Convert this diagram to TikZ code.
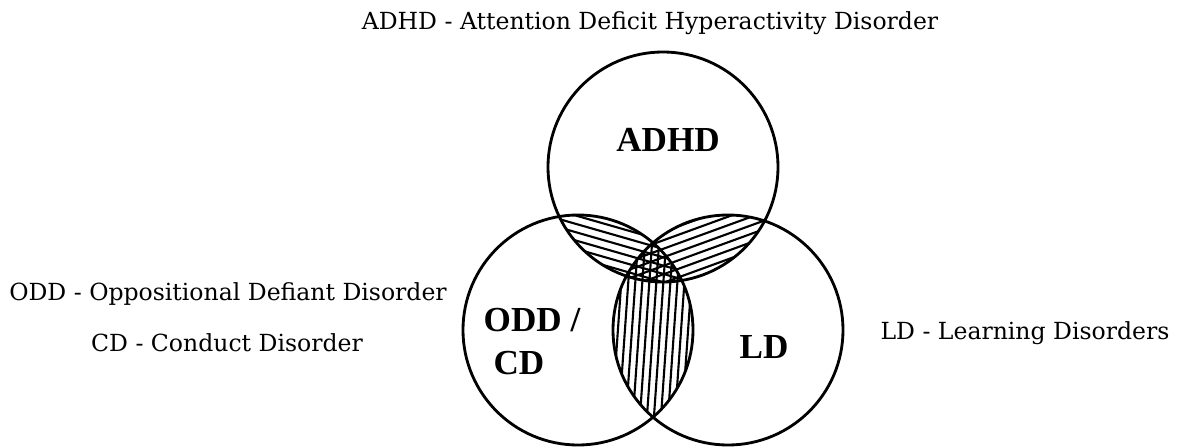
\documentclass[tikz,border=0pt]{standalone}
\usepackage{fontspec}
\setmainfont{Liberation Serif}
\newfontfamily\notefont{DejaVu Serif}
\begin{document}
\begin{tikzpicture}[x=0.02cm, y=0.02cm,
  ring/.style={line width=1.6pt},
  hatch/.style={line width=1.2pt},
  setlabel/.style={font=\fontsize{20}{24}\selectfont\bfseries},
  keylabel/.style={font=\notefont\fontsize{13.4}{16}\selectfont}
]
\useasboundingbox (0,0) rectangle (1181,447);
% circle centres
\coordinate (cA) at (663,280);
\coordinate (cO) at (578,117);
\coordinate (cL) at (728,117);
\def\rad{115}

% ADHD / ODD overlap
\begin{scope}
  \clip (cA) circle[radius=\rad];
  \clip (cO) circle[radius=\rad];
  \begin{scope}[shift={(610,205)}, rotate=-16]
    \foreach \k in {-12,...,12}
      \draw[hatch] (-120,\k*8) -- (120,\k*8);
  \end{scope}
\end{scope}
% ADHD / LD overlap
\begin{scope}
  \clip (cA) circle[radius=\rad];
  \clip (cL) circle[radius=\rad];
  \begin{scope}[shift={(715,200)}, rotate=20]
    \foreach \k in {-12,...,12}
      \draw[hatch] (-120,\k*8) -- (120,\k*8);
  \end{scope}
\end{scope}
% ODD / LD overlap
\begin{scope}
  \clip (cO) circle[radius=\rad];
  \clip (cL) circle[radius=\rad];
  \begin{scope}[shift={(653,117)}, rotate=-4]
    \foreach \k in {-14,...,14}
      \draw[hatch] (\k*7,-120) -- (\k*7,120);
  \end{scope}
\end{scope}

% the three sets
\draw[ring] (cA) circle[radius=\rad];
\draw[ring] (cO) circle[radius=\rad];
\draw[ring] (cL) circle[radius=\rad];

\node[setlabel] (adhd) at (668,307) {ADHD};
\node[setlabel] (odd) at (532,127) {ODD /};
\node[setlabel] (cd) at (519,84) {CD};
\node[setlabel] (ld) at (764,100) {LD};

% key
\node[keylabel] (keyadhd) at (650,424) {ADHD - Attention Deficit Hyperactivity Disorder};
\node[keylabel] (keyodd) at (228,153) {ODD - Oppositional Defiant Disorder};
\node[keylabel] (keycd) at (227,104) {CD - Conduct Disorder};
\node[keylabel] (keyld) at (1025,114) {LD - Learning Disorders};
\end{tikzpicture}
\end{document}
